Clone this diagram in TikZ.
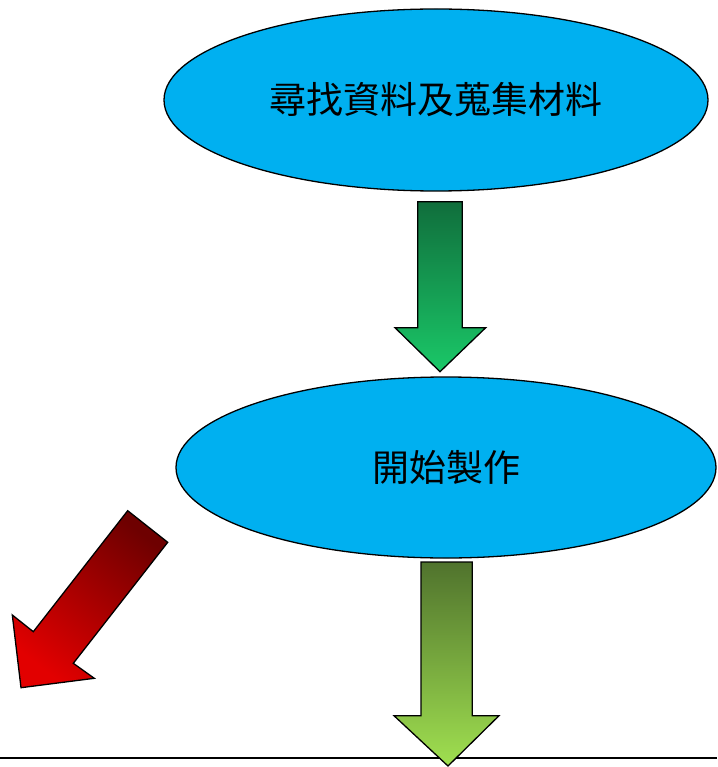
\documentclass[tikz,border=0pt]{standalone}
\usepackage{fontspec}
\newfontfamily\cjk{Noto Sans CJK TC}
\usetikzlibrary{shapes.geometric}
\definecolor{skyblue}{HTML}{00B0F0}
\definecolor{gtop}{RGB}{16,110,60}
\definecolor{gbot}{RGB}{26,200,104}
\definecolor{ltop}{RGB}{80,115,45}
\definecolor{lbot}{RGB}{160,224,80}
\definecolor{rtop}{RGB}{110,0,0}
\definecolor{rbot}{RGB}{226,0,0}
\begin{document}
\begin{tikzpicture}[x=1pt,y=-1pt,
  oval/.style={ellipse, draw=black, line width=1.3pt, fill=skyblue, inner sep=0pt,
    font=\cjk\fontsize{37}{44}\selectfont},
  blockarrow/.style={draw=black, line width=1.3pt, line join=miter},
  baseline/.style={draw=black, line width=2pt}]
\useasboundingbox (0,0) rectangle (717,767);
\fill[white] (0,0) rectangle (717,767);
\node[oval, minimum width=544pt, minimum height=182pt] (find) at (436,100) {尋找資料及蒐集材料};
\node[oval, minimum width=540pt, minimum height=181pt] (make) at (446,467.5) {開始製作};
% green arrow between the two ovals
\shadedraw[blockarrow, top color=gtop, bottom color=gbot]
  (417.7,201.7) -- (462.3,201.7) -- (462.3,327.7) -- (485.7,327.7) -- (440,371.7)
  -- (395,327.7) -- (417.7,327.7) -- cycle;
% red arrow to the lower left
\shadedraw[blockarrow, top color=rtop, bottom color=rbot, shading angle=-38]
  (127.7,510.7) -- (167.7,542.3) -- (73.3,663.3) -- (94.3,678.3) -- (21,687.7)
  -- (12.3,615) -- (33.3,631.7) -- cycle;
% bottom rule
\coordinate (ruleL) at (0,757.7);
\coordinate (ruleR) at (717,757.7);
\draw[baseline] (ruleL) -- (ruleR);
% light green arrow below the second oval
\shadedraw[blockarrow, top color=ltop, bottom color=lbot]
  (421,562) -- (472.3,562) -- (472.3,715.7) -- (499,715.7) -- (448,766)
  -- (394,715.7) -- (421,715.7) -- cycle;
\end{tikzpicture}
\end{document}
